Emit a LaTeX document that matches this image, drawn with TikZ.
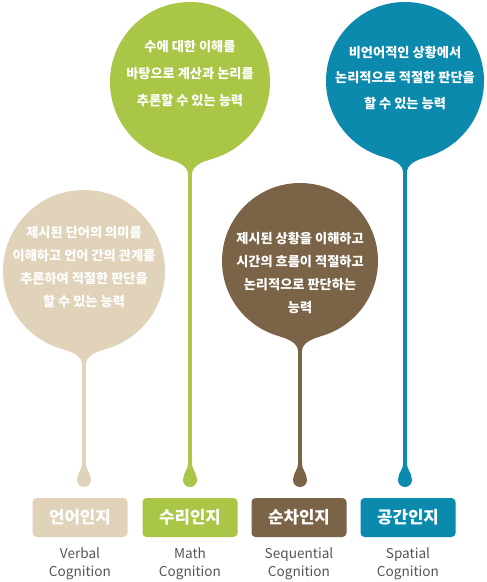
\documentclass[tikz,border=0pt]{standalone}
\usepackage{fontspec}
\newfontfamily\kr{Noto Sans CJK KR}
\usetikzlibrary{calc}
\definecolor{cbeige}{HTML}{E0D3BA}
\definecolor{cgreen}{HTML}{A9C646}
\definecolor{cbrown}{HTML}{7A6347}
\definecolor{cblue}{HTML}{0B8AAE}
\definecolor{cgray}{HTML}{555555}
\newcommand{\pinflare}[2]{%
  \begin{scope}[shift={(#1.south)}]
    \fill[#2] (-20,-2.6) .. controls (-12,-0.5) and (-2,4) .. (-2,12) -- (2,12)
      .. controls (2,4) and (12,-0.5) .. (20,-2.6) -- (0,-20) -- cycle;
  \end{scope}}
\newcommand{\dropflare}[2]{%
  \fill[#2] (#1) circle[radius=7];
  \begin{scope}[shift={(#1)}]
    \fill[#2] (-2,-20) -- (2,-20) -- (2,-16) .. controls (2,-10) and (6.5,-8) .. (6.5,-2)
      -- (-6.5,-2) .. controls (-6.5,-8) and (-2,-10) .. (-2,-16) -- cycle;
  \end{scope}}
\begin{document}
\begin{tikzpicture}[x=1pt,y=-1pt,
  bubble/.style={circle, inner sep=0pt, minimum size=#1},
  btext/.style={text=white, align=center, inner sep=0pt, font=\kr\bfseries\fontsize{13.2}{#1}\selectfont},
  tag/.style={rounded corners=4pt, minimum width=95pt, minimum height=39pt, inner sep=0pt, text=white, font=\kr\bfseries\fontsize{16.8}{20}\selectfont},
  eng/.style={text=cgray, align=center, inner sep=0pt, font=\kr\fontsize{13.6}{18}\selectfont},
  stemline/.style={line width=4pt},
]
\fill[white] (0,0) rectangle (487,582);
\useasboundingbox (0,0) rectangle (487,582);

% bubbles
\node[bubble=162pt, fill=cbeige] (b1) at (84,271) {};
\node[bubble=160pt, fill=cgreen] (b2) at (190,82) {};
\node[bubble=156pt, fill=cbrown] (b3) at (300,261) {};
\node[bubble=158pt, fill=cblue]  (b4) at (405,81) {};
\pinflare{b1}{cbeige}
\pinflare{b2}{cgreen}
\pinflare{b3}{cbrown}
\pinflare{b4}{cblue}

% drops
\coordinate (d1) at (84,480);
\coordinate (d2) at (190,480);
\coordinate (d3) at (300,480);
\coordinate (d4) at (405,480);
\draw[stemline, cbeige] (b1.south) -- (d1);
\draw[stemline, cgreen] (b2.south) -- (d2);
\draw[stemline, cbrown] (b3.south) -- (d3);
\draw[stemline, cblue]  (b4.south) -- (d4);
\dropflare{d1}{cbeige}
\dropflare{d2}{cgreen}
\dropflare{d3}{cbrown}
\dropflare{d4}{cblue}

% bubble texts
\node[btext=23.3pt] (t1) at (84,267) {제시된 단어의 의미를\\이해하고 언어 간의 관계를\\추론하여 적절한 판단을\\할 수 있는 능력};
\node[btext=27pt] (t2) at (190,74) {수에 대한 이해를\\바탕으로 계산과 논리를\\추론할 수 있는 능력};
\node[btext=23pt] (t3) at (300,273) {제시된 상황을 이해하고\\시간의 흐름이 적절하고\\논리적으로 판단하는\\능력};
\node[btext=25.5pt] (t4) at (405,78) {비언어적인 상황에서\\논리적으로 적절한 판단을\\할 수 있는 능력};

% tags
\node[tag, fill=cbeige] (l1) at (80,517.5) {언어인지};
\node[tag, fill=cgreen] (l2) at (190,517.5) {수리인지};
\node[tag, fill=cbrown] (l3) at (299,517.5) {순차인지};
\node[tag, fill=cblue]  (l4) at (408,517.5) {공간인지};

% english
\node[eng] (e1) at (80,564) {Verbal\\Cognition};
\node[eng] (e2) at (190,564) {Math\\Cognition};
\node[eng] (e3) at (299,564) {Sequential\\Cognition};
\node[eng] (e4) at (408,564) {Spatial\\Cognition};
\end{tikzpicture}
\end{document}
